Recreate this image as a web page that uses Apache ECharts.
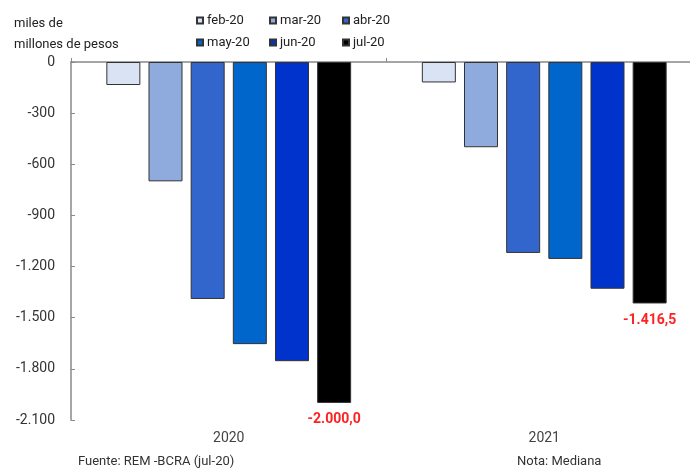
<!DOCTYPE html>
<html>
<head>
<meta charset="utf-8">
<script src="https://cdn.jsdelivr.net/npm/echarts@6/dist/echarts.min.js"></script>
<style>
  html, body { margin: 0; padding: 0; background: #fff; overflow: hidden; }
  /* el gráfico original está recortado a la derecha */
  #container { width: 702px; height: 473px; }
</style>
</head>
<body>
<div id="container"></div>
<script>
/* datos */
var years = ['2020', '2021'];
var months = ['feb-20', 'mar-20', 'abr-20', 'may-20', 'jun-20', 'jul-20'];
var feb20 = [-135, -120];
var mar20 = [-700, -500];
var abr20 = [-1390, -1120];
var may20 = [-1655, -1155];
var jun20 = [-1755, -1330];
var jul20 = [-2000.0, -1416.5];
var colores = ['#dae3f3', '#8faadc', '#3366cc', '#0066cc', '#0033cc', '#000000'];
var yTicks = [0, -300, -600, -900, -1200, -1500, -1800, -2100];

var valores = [feb20, mar20, abr20, may20, jun20, jul20];

function miles(v) {
    var s = Math.abs(Math.round(v)).toString().replace(/\B(?=(\d{3})+(?!\d))/g, '.');
    return (v < 0 ? '-' : '') + s;
}
function conDecimal(v) {
    var parts = Math.abs(v).toFixed(1).split('.');
    return (v < 0 ? '-' : '') + parts[0].replace(/\B(?=(\d{3})+(?!\d))/g, '.') + ',' + parts[1];
}

var fuente = 'Roboto, "Liberation Sans", sans-serif';

var series = [];
for (var i = 0; i < months.length; i++) {
    var data = valores[i].map(function (v) { return v; });
    if (i === months.length - 1) {
        /* etiqueta roja solo en jul-20 */
        data = valores[i].map(function (v) {
            return {
                value: v,
                label: {
                    show: true,
                    position: 'bottom',
                    distance: 10,
                    formatter: function (p) { return conDecimal(p.value); },
                    color: '#ff2222',
                    fontWeight: 'bold',
                    fontSize: 14,
                    fontFamily: fuente
                }
            };
        });
    }
    series.push({
        name: months[i],
        type: 'bar',
        xAxisIndex: 1,
        barWidth: 34,
        barGap: '24%',
        itemStyle: {
            color: colores[i],
            borderColor: '#333',
            borderWidth: 1
        },
        data: data
    });
}

/* leyenda: una por elemento, en dos filas de tres */
var legendas = [];
for (var k = 0; k < months.length; k++) {
    legendas.push({
        data: [months[k]],
        left: 196 + (k % 3) * 73,
        top: k < 3 ? 14 : 36,
        padding: 0,
        icon: 'rect',
        itemWidth: 6, itemHeight: 6,
        textStyle: { fontSize: 13, color: '#222', padding: [0, 0, 0, -1] }
    });
}

var dom = document.getElementById('container');
var myChart = echarts.init(dom);

var option = {
    animation: false,
    textStyle: { fontFamily: fuente },
    grid: { left: 71, right: 0, top: 62, bottom: 53 },
    legend: legendas,
    xAxis: [
        {
            /* línea del cero arriba */
            type: 'category',
            data: years,
            position: 'top',
            axisLine: { show: true, onZero: false, lineStyle: { color: '#888', width: 1.5 } },
            axisTick: { show: true, length: 4, lineStyle: { color: '#888' } },
            axisLabel: { show: false }
        },
        {
            type: 'category',
            data: years,
            position: 'bottom',
            axisLine: { show: false },
            axisTick: { show: false },
            axisLabel: { color: '#444', fontSize: 14, margin: 11 }
        }
    ],
    yAxis: {
        type: 'value',
        min: yTicks[yTicks.length - 1],
        max: yTicks[0],
        interval: 300,
        axisLine: { show: true, lineStyle: { color: '#888', width: 1.5 } },
        axisTick: { show: true, inside: true, length: 4, lineStyle: { color: '#888' } },
        splitLine: { show: false },
        axisLabel: {
            color: '#333', fontSize: 14, margin: 16,
            formatter: function (v) { return miles(v); }
        }
    },
    graphic: [
        {
            type: 'text', left: 14, top: 13,
            style: { text: 'miles de\nmillones de pesos', fontSize: 13, lineHeight: 21, fill: '#222', fontFamily: fuente }
        },
        {
            type: 'text', left: 78, top: 455,
            style: { text: 'Fuente: REM -BCRA (jul-20)', fontSize: 13, fill: '#333', fontFamily: fuente }
        },
        {
            type: 'text', left: 517, top: 455,
            style: { text: 'Nota: Mediana', fontSize: 13, fill: '#333', fontFamily: fuente }
        }
    ],
    series: series
};

myChart.setOption(option);
</script>
</body>
</html>
